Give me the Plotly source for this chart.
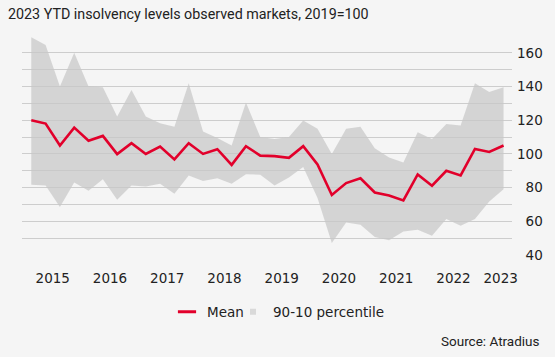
import plotly.graph_objects as go

quarters = [f"{y}Q{q}" for y in range(2015, 2024) for q in range(1, 5)][:34]

mean_vals = [120.0, 118.0, 105.0, 115.6, 107.8, 110.7, 99.9, 106.4, 100.0, 104.4, 96.7, 106.4,
             100.0, 102.8, 93.5, 104.6, 99.0, 98.7, 97.7, 104.6, 93.7, 75.6, 82.7, 85.5,
             77.1, 75.3, 72.4, 87.8, 81.1, 90.0, 87.2, 103.0, 101.2, 105.0]
p90_vals = [169.2, 164.7, 140.0, 160.0, 140.0, 139.6, 122.2, 138.0, 122.2, 118.2, 116.2, 142.0,
            113.3, 109.4, 105.0, 130.5, 110.0, 108.8, 110.0, 119.8, 114.9, 100.0, 114.9, 116.2,
            103.4, 97.9, 94.9, 112.9, 108.8, 117.7, 116.8, 142.0, 136.8, 139.6]
p10_vals = [81.7, 81.3, 68.5, 83.0, 78.1, 85.0, 72.8, 81.3, 80.7, 82.3, 76.3, 87.2,
            84.0, 85.6, 82.3, 88.0, 87.6, 81.3, 86.0, 92.2, 73.8, 47.1, 59.3, 58.0,
            50.7, 48.7, 54.0, 55.0, 51.4, 61.3, 57.4, 61.3, 71.8, 79.1]

year_labels = ["2015", "2016", "2017", "2018", "2019", "2020", "2021", "2022", "2023"]
year_label_pos = [1.5, 5.5, 9.5, 13.5, 17.5, 21.5, 25.5, 29.5, 32.8]
y_tick_vals = [40, 60, 80, 100, 120, 140, 160]

x = list(range(len(quarters)))
RED = "#e2002b"
BAND = "rgba(200,200,200,0.72)"
TICKFONT = dict(family="DejaVu Sans", size=13.5, color="#222222")
NARROW = "Liberation Sans Narrow, Roboto, sans-serif"
LEGFONT = dict(family="DejaVu Sans", size=13.5, color="#222222")

fig = go.Figure()
fig.add_trace(go.Scatter(x=x, y=p10_vals, mode="lines", line=dict(width=0),
                         showlegend=False, hoverinfo="skip", customdata=quarters))
fig.add_trace(go.Scatter(x=x, y=p90_vals, mode="lines", line=dict(width=0),
                         fill="tonexty", fillcolor=BAND, name="90-10 percentile",
                         showlegend=False, customdata=quarters))
fig.add_trace(go.Scatter(x=x, y=mean_vals, mode="lines", line=dict(color=RED, width=2.6),
                         name="Mean", showlegend=False, customdata=quarters))
# legend entries
fig.add_trace(go.Scatter(x=[None], y=[None], mode="markers", name="Mean",
                         marker=dict(symbol="line-ew-open", size=13, color=RED,
                                     line=dict(color=RED, width=3)),
                         legend="legend"))
fig.add_trace(go.Scatter(x=[None], y=[None], mode="markers", name="90-10 percentile",
                         marker=dict(symbol="square", size=6, color="#d9d9d9",
                                     line=dict(width=0)),
                         legend="legend2"))

fig.update_layout(
    width=555, height=357,
    paper_bgcolor="#f5f5f5", plot_bgcolor="#f5f5f5",
    margin=dict(l=22, r=43, t=36, b=102, autoexpand=False),
    title=dict(text="2023 YTD insolvency levels observed markets, 2019=100",
               x=8/555, xanchor="left", xref="container",
               y=1-14/357, yanchor="middle", yref="container",
               font=dict(family=NARROW, size=14.3, color="#222222")),
    xaxis=dict(range=[-0.65, 33.59], tickvals=year_label_pos, ticktext=year_labels,
               showgrid=False, zeroline=False, showline=False, ticks="outside",
               ticklen=0, tickfont=TICKFONT, ticklabelstandoff=11, automargin=False),
    yaxis=dict(range=[40, 170], side="right", tickvals=y_tick_vals,
               ticktext=[("\u2007" + str(v)) if v < 100 else str(v) for v in y_tick_vals],
               showgrid=True, gridcolor="#cdcdcd", gridwidth=1.2,
               minor=dict(dtick=10, tick0=40, showgrid=True, gridcolor="#cdcdcd", gridwidth=1.2),
               zeroline=False, showline=False, ticks="", tickfont=TICKFONT,
               ticklabelstandoff=4, automargin=False),
    legend=dict(orientation="h", xref="container", x=167/555, xanchor="left",
                yref="container", y=1-312/357, yanchor="middle",
                font=LEGFONT, bgcolor="rgba(0,0,0,0)", borderwidth=0),
    legend2=dict(orientation="h", xref="container", x=233/555, xanchor="left",
                 yref="container", y=1-312/357, yanchor="middle",
                 font=LEGFONT, bgcolor="rgba(0,0,0,0)", borderwidth=0),
    annotations=[dict(text="Source: Atradius", xref="paper", yref="paper",
                      x=(542-22)/490, y=(255.3-341)/219.3, xanchor="right", yanchor="middle",
                      showarrow=False, font=dict(family=NARROW, size=13.5, color="#222222"))],
    showlegend=True,
)

fig.write_html("out.html", config={"displayModeBar": False},
               post_script="document.body.style.margin='0';document.body.style.overflow='hidden';")
